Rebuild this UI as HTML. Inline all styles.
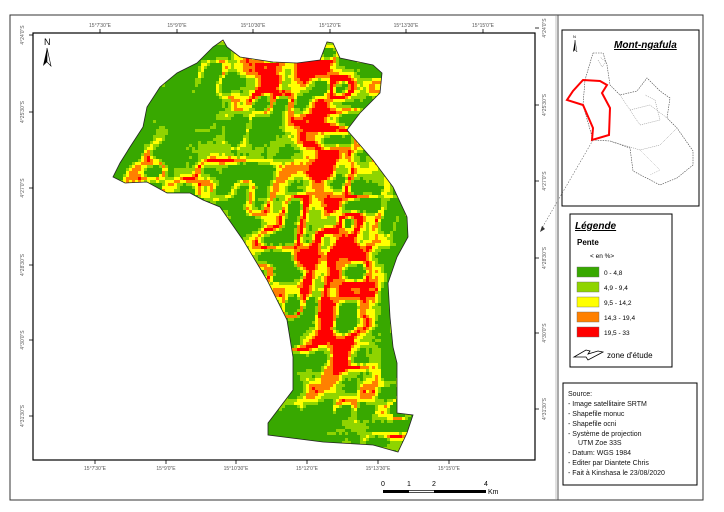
<!DOCTYPE html>
<html><head><meta charset="utf-8"><style>
html,body{margin:0;padding:0;background:#fff;}
body{width:724px;height:512px;position:relative;overflow:hidden;font-family:"Liberation Sans",sans-serif;}
</style></head><body>
<svg id="s" width="724" height="512" xmlns="http://www.w3.org/2000/svg" style="position:absolute;left:0;top:0">
<defs>
<clipPath id="cp"><polygon points="223,40 227,47 240,57 273,62 297,63 320,60 327,42 333,43 340,58 373,65 382,73 380,93 360,113 347,130 373,160 393,187 407,217 408,237 397,257 388,283 390,317 393,347 397,363 397,413 413,415 407,433 398,452 373,445 323,442 268,435 268,423 293,390 293,357 287,320 267,280 243,240 220,207 203,200 190,193 167,193 147,182 125,183 113,177 120,163 130,147 143,127 147,107 160,87 177,73 197,63 213,47"/></clipPath>
</defs>
<rect x="10" y="15" width="693" height="485" fill="none" stroke="#333" stroke-width="1"/>
<line x1="558" y1="15" x2="558" y2="500" stroke="#555" stroke-width="1"/>
<line x1="556" y1="15" x2="556" y2="500" stroke="#999" stroke-width="0.6"/>
<rect x="33" y="33" width="502" height="427" fill="none" stroke="#000" stroke-width="1.2"/>
<g id="raster" clip-path="url(#cp)"><rect x="100" y="30" width="330" height="430" fill="#38a800"/></g>
<polygon points="223,40 227,47 240,57 273,62 297,63 320,60 327,42 333,43 340,58 373,65 382,73 380,93 360,113 347,130 373,160 393,187 407,217 408,237 397,257 388,283 390,317 393,347 397,363 397,413 413,415 407,433 398,452 373,445 323,442 268,435 268,423 293,390 293,357 287,320 267,280 243,240 220,207 203,200 190,193 167,193 147,182 125,183 113,177 120,163 130,147 143,127 147,107 160,87 177,73 197,63 213,47" fill="none" stroke="#222" stroke-width="0.8"/>
<g id="ticks" font-size="5" fill="#555"></g>
<text x="44" y="45" font-size="9" fill="#000">N</text>
<polygon points="47,48 43,66 47,62" fill="#000"/><polygon points="47,48 51,66 47,62" fill="#fff" stroke="#000" stroke-width="0.6"/>
<g font-size="7" fill="#000">
<text x="381" y="486">0</text><text x="407" y="486">1</text><text x="432" y="486">2</text><text x="484" y="486">4</text><text x="488" y="494">Km</text>
</g>
<rect x="383" y="490" width="103" height="3" fill="#000"/><rect x="409" y="490.7" width="25" height="1.6" fill="#fff"/>
<rect x="562" y="30" width="137" height="176" fill="#fff" stroke="#000" stroke-width="1"/>
<text x="614" y="48" font-size="10" font-weight="bold" font-style="italic" text-decoration="underline">Mont-ngafula</text>
<text x="573" y="38" font-size="4">N</text><polygon points="575,40 573,52 575,50" fill="#000"/><polygon points="575,40 577,52 575,50" fill="#fff" stroke="#000" stroke-width="0.4"/>
<polyline points="593,53 603,53 607,65 610,85 620,95 637,91 647,78 660,91 670,98 667,118 677,128 693,151 693,165 677,178 660,185 633,171 630,148 610,141 593,140 583,105 585,80 593,53" fill="none" stroke="#444" stroke-width="0.6" stroke-dasharray="1.5,1"/>
<polyline points="598,60 602,67 606,62 600,57" fill="none" stroke="#666" stroke-width="0.5" stroke-dasharray="1,1"/>
<polyline points="620,95 630,110 650,105 667,118" fill="none" stroke="#777" stroke-width="0.5" stroke-dasharray="1,1"/>
<polyline points="630,110 640,125 660,120 655,100 645,95" fill="none" stroke="#777" stroke-width="0.5" stroke-dasharray="1,1"/>
<polyline points="610,141 640,150 660,145 677,128" fill="none" stroke="#777" stroke-width="0.5" stroke-dasharray="1,1"/>
<polyline points="640,150 660,170 650,175" fill="none" stroke="#999" stroke-width="0.5" stroke-dasharray="1,1"/>
<polygon points="583,80 600,81 607,85 602,93 610,108 609,135 592,140 593,128 583,105 567,100 573,91" fill="none" stroke="#f00" stroke-width="2"/>
<line x1="593" y1="140" x2="542" y2="228" stroke="#666" stroke-width="0.6" stroke-dasharray="1.5,1.5"/>
<polygon points="540,232 542,226 545,229" fill="#333"/>
<rect x="570" y="214" width="102" height="153" fill="#fff" stroke="#000" stroke-width="1"/>
<text x="575" y="229" font-size="10" font-weight="bold" font-style="italic" text-decoration="underline">Légende</text>
<text x="577" y="245" font-size="8" font-weight="bold">Pente</text>
<text x="590" y="258" font-size="6.5">&lt; en %&gt;</text>
<g font-size="6.5">
<rect x="577" y="267" width="22" height="10" fill="#38a800" stroke="#666" stroke-width="0.4"/><text x="604" y="275">0 - 4,8</text>
<rect x="577" y="282" width="22" height="10" fill="#8fd400" stroke="#666" stroke-width="0.4"/><text x="604" y="290">4,9 - 9,4</text>
<rect x="577" y="297" width="22" height="10" fill="#ffff00" stroke="#666" stroke-width="0.4"/><text x="604" y="305">9,5 - 14,2</text>
<rect x="577" y="312" width="22" height="10" fill="#ff8000" stroke="#666" stroke-width="0.4"/><text x="604" y="320">14,3 - 19,4</text>
<rect x="577" y="327" width="22" height="10" fill="#ff0000" stroke="#666" stroke-width="0.4"/><text x="604" y="335">19,5 - 33</text>
</g>
<polygon points="574,357 586,350 590,351 588,354 598,351 603,352 588,360 586,357" fill="#fff" stroke="#000" stroke-width="0.8"/>
<text x="607" y="358" font-size="8">zone d'étude</text>
<rect x="563" y="383" width="134" height="102" fill="#fff" stroke="#000" stroke-width="1"/>
<g font-size="7" fill="#111">
<text x="568" y="396">Source:</text>
<text x="568" y="406">- Image satellitaire SRTM</text>
<text x="568" y="416">- Shapefile monuc</text>
<text x="568" y="426">- Shapefile ocni</text>
<text x="568" y="436">- Système de projection</text>
<text x="578" y="445">UTM Zoe 33S</text>
<text x="568" y="455">- Datum: WGS 1984</text>
<text x="568" y="465">- Editer par Diantete Chris</text>
<text x="568" y="475">- Fait à Kinshasa le 23/08/2020</text>
</g>
</svg>
<script>
(function(){
var NS="http://www.w3.org/2000/svg";
var g=document.getElementById("raster");
var cols=["#38a800","#8fd400","#ffff00","#ff8000","#ff0000"];
function h(i,j,s){var n=Math.sin(i*127.1+j*311.7+s*74.7)*43758.5453;return n-Math.floor(n);}
function noise(x,y,sc,seed){x/=sc;y/=sc;var i=Math.floor(x),j=Math.floor(y),fx=x-i,fy=y-j;
 fx=fx*fx*(3-2*fx);fy=fy*fy*(3-2*fy);
 var a=h(i,j,seed),b=h(i+1,j,seed),c=h(i,j+1,seed),d=h(i+1,j+1,seed);
 return a+(b-a)*fx+(c-a)*fy+(a-b-c+d)*fx*fy;}
function gs(x,y,cx,cy,sx,sy,a){var dx=(x-cx)/sx,dy=(y-cy)/sy;return a*Math.exp(-(dx*dx+dy*dy));}
function rough(x,y){
 var r=0.5;
 r+=gs(x,y,290,80,80,28,0.5);
 r+=gs(x,y,330,260,40,160,0.55);
 r+=gs(x,y,250,240,30,45,0.25);
 r+=gs(x,y,180,165,60,22,0.25);
 r-=gs(x,y,310,425,55,28,0.45);
 r-=gs(x,y,400,290,14,120,0.4);
 r-=gs(x,y,180,105,45,32,0.4);
 r+=gs(x,y,395,430,15,20,0.45);
 return Math.min(1.0,Math.max(0.05,r));
}
var s=3,frag=document.createDocumentFragment();
for(var y=36;y<456;y+=s){for(var x=108;x<416;x+=s){
 var r=rough(x,y);
 var n1=noise(x,y,18,1),n2=noise(x*0.9+y*0.2,y,17,2),n3=noise(x,y,6,3);
 var ridge=1-Math.abs(2*n2-1);
 var v=r*(0.45*n1+0.75*ridge*ridge)+0.1*(n3-0.5)+0.06*(h(x,y,9)-0.5);
 var k=v<0.29?0:v<0.39?1:v<0.51?2:v<0.63?3:4;
 if(k==0)continue;
 var e=document.createElementNS(NS,"rect");
 e.setAttribute("x",x);e.setAttribute("y",y);e.setAttribute("width",s);e.setAttribute("height",s);e.setAttribute("fill",cols[k]);
 frag.appendChild(e);
}}
g.appendChild(frag);
var t=document.getElementById("ticks");
function tx(x,y,str,rot){var e=document.createElementNS(NS,"text");e.setAttribute("x",x);e.setAttribute("y",y);e.setAttribute("text-anchor","middle");if(rot)e.setAttribute("transform","rotate(-90 "+x+" "+y+")");e.textContent=str;t.appendChild(e);}
function ln(a,b,c,d){var e=document.createElementNS(NS,"line");e.setAttribute("x1",a);e.setAttribute("y1",b);e.setAttribute("x2",c);e.setAttribute("y2",d);e.setAttribute("stroke","#000");e.setAttribute("stroke-width","0.8");t.appendChild(e);}
var top=[100,177,253,330,406,483],tl=["15°7'30\"E","15°9'0\"E","15°10'30\"E","15°12'0\"E","15°13'30\"E","15°15'0\"E"];
top.forEach(function(x,i){ln(x,33,x,29);tx(x,27,tl[i]);});
var bot=[95,166,236,307,378,449];
bot.forEach(function(x,i){ln(x,460,x,464);tx(x,470,tl[i]);});
var lt=[35,112,188,265,340,416],ll=["4°24'0\"S","4°25'30\"S","4°27'0\"S","4°28'30\"S","4°30'0\"S","4°31'30\"S"];
lt.forEach(function(y,i){ln(33,y,29,y);tx(24,y,ll[i],1);ln(535,y-7,539,y-7);tx(546,y-7,ll[i],1);});
})();
</script>
</body></html>
